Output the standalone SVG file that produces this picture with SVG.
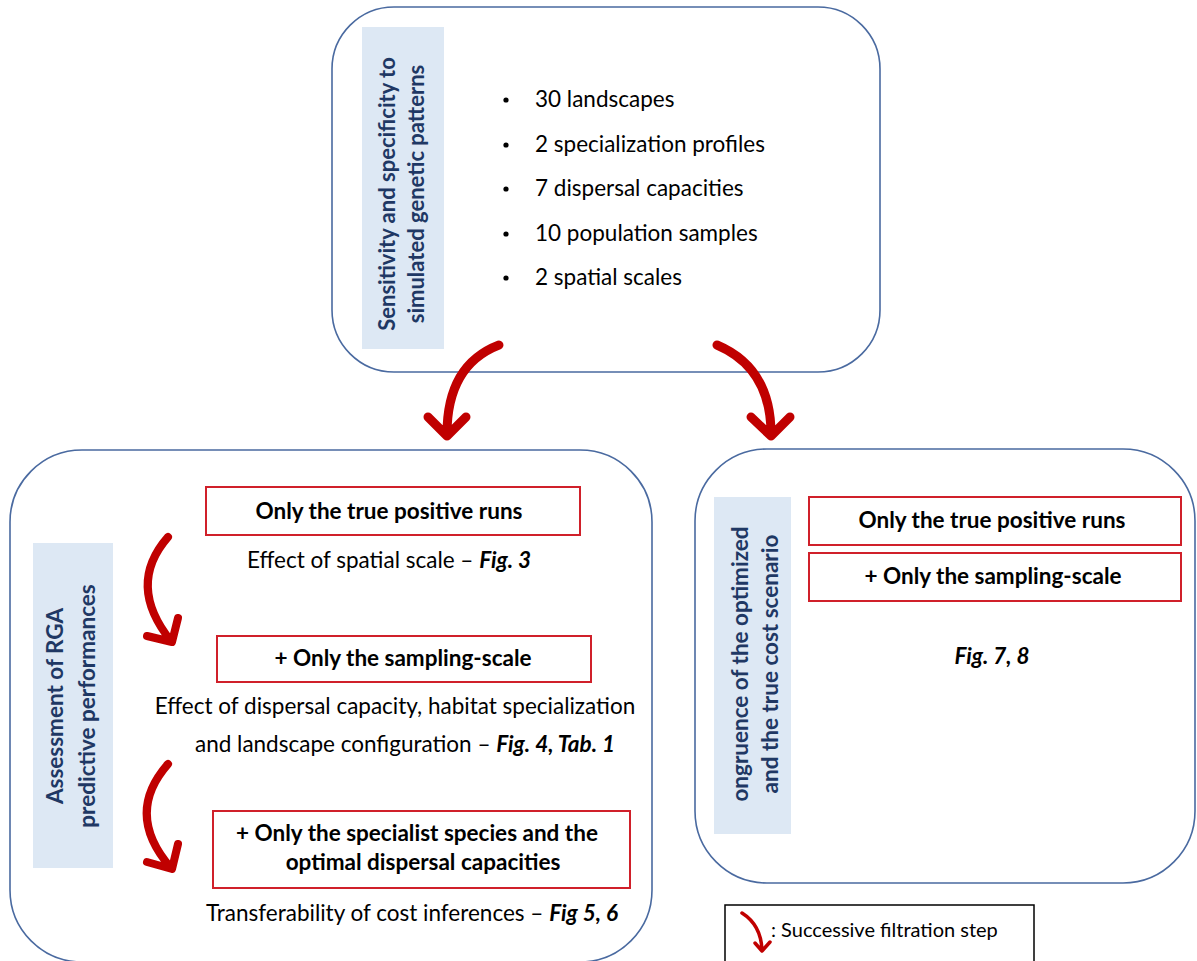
<svg xmlns="http://www.w3.org/2000/svg" width="1197" height="961" viewBox="0 0 1197 961">
<style>
.frame{fill:#fff;stroke:#4a6aa0;stroke-width:1.6}
.lbl{fill:#dde8f4}
.lt{font-family:Lato,"Open Sans",sans-serif;font-size:22.5px;font-weight:bold;fill:#1f3864;text-anchor:middle}
.t{font-family:Lato,"Open Sans",sans-serif;font-size:22.5px;fill:#000}
.tc{font-family:Lato,"Open Sans",sans-serif;font-size:22.5px;fill:#000;text-anchor:middle}
.b{font-weight:bold}
.bi{font-weight:bold;font-style:italic}
.rb{fill:#fff;stroke:#d0202a;stroke-width:2}
.arr{fill:none;stroke:#c00000;stroke-width:9;stroke-linecap:round;stroke-linejoin:round}
.arr2{fill:none;stroke:#c00000;stroke-width:8;stroke-linecap:round;stroke-linejoin:round}
</style>
<rect width="1197" height="961" fill="#fff"/>
<g id="top">
<rect class="frame" x="332" y="7" width="548" height="365" rx="62"/>
<rect class="lbl" x="362" y="27" width="82" height="322"/>
<text class="lt" style="font-size:22px" transform="translate(395 194) rotate(-90)"><tspan x="0" y="0">Sensitivity and specificity to</tspan><tspan x="0" y="29">simulated genetic patterns</tspan></text>
<g class="t">
<circle cx="506" cy="100" r="2.6" fill="#000"/><text x="535" y="107">30 landscapes</text>
<circle cx="506" cy="145" r="2.6" fill="#000"/><text x="535" y="152">2 specialization profiles</text>
<circle cx="506" cy="189" r="2.6" fill="#000"/><text x="535" y="196">7 dispersal capacities</text>
<circle cx="506" cy="234" r="2.6" fill="#000"/><text x="535" y="241">10 population samples</text>
<circle cx="506" cy="278" r="2.6" fill="#000"/><text x="535" y="285">2 spatial scales</text>
</g>
</g>
<g id="left">
<rect class="frame" x="10" y="450" width="642" height="512" rx="72"/>
<rect class="lbl" x="33" y="543" width="80" height="325"/>
<text class="lt" transform="translate(63 706) rotate(-90)"><tspan x="0" y="0">Assessment of RGA</tspan><tspan x="0" y="32">predictive performances</tspan></text>
<rect class="rb" x="206" y="487" width="374" height="48"/>
<text class="tc b" x="389" y="519">Only the true positive runs</text>
<text class="tc" x="389" y="568">Effect of spatial scale  – <tspan class="bi">Fig. 3</tspan></text>
<rect class="rb" x="217" y="636" width="374" height="46"/>
<text class="tc b" x="403" y="666">+ Only the sampling-scale</text>
<text class="tc" x="395" y="714">Effect of dispersal capacity, habitat specialization</text>
<text class="tc" x="405" y="752">and landscape configuration  –  <tspan class="bi">Fig. 4, Tab.  1</tspan></text>
<rect class="rb" x="213" y="811" width="417" height="77"/>
<text class="tc b" x="417" y="841">+ Only the specialist species and the</text>
<text class="tc b" x="423" y="870">optimal dispersal capacities</text>
<text class="tc" x="412" y="921">Transferability of cost inferences   – <tspan class="bi">Fig 5, 6</tspan></text>
</g>
<g id="right">
<rect class="frame" x="695" y="449" width="500" height="434" rx="72"/>
<rect class="lbl" x="714" y="497" width="77" height="337"/>
<text class="lt" transform="translate(748 664) rotate(-90)"><tspan x="0" y="0">ongruence of the optimized</tspan><tspan x="0" y="30">and the true cost scenario</tspan></text>
<rect class="rb" x="809" y="497" width="372" height="48"/>
<text class="tc b" x="992" y="528">Only the true positive runs</text>
<rect class="rb" x="809" y="553" width="372" height="48"/>
<text class="tc b" x="993" y="584">+ Only the sampling-scale</text>
<text class="tc bi" x="992" y="664">Fig. 7,  8</text>
</g>
<g id="legend">
<rect x="725" y="905" width="309" height="70" fill="#fff" stroke="#000" stroke-width="1.5"/>
<path d="M742,913 Q761,925 762,950 M755,943 L762,951 L770,942" fill="none" stroke="#c00000" stroke-width="3.5" stroke-linecap="round" stroke-linejoin="round"/>
<text class="t" x="771" y="937" style="font-size:20px">: Successive filtration step</text>
</g>
<g id="connectors">
<path class="arr" d="M499,345 Q447,365 447,434 M428,417 L447,436 L466,417"/>
<path class="arr" d="M717,345 Q771,368 771,434 M751,417 L771,436 L790,417"/>
<path class="arr2" d="M168,537 Q126,585 171,641 M147,636 L172,642 L178,618"/>
<path class="arr2" d="M168,764 Q124,814 171,868 M147,862 L172,869 L178,844"/>
</g>
</svg>
